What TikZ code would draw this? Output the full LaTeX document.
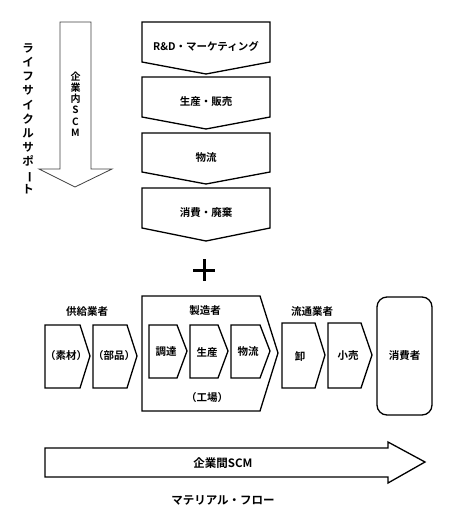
\documentclass[tikz,border=0pt]{standalone}
\usepackage{fontspec}
\setmainfont{Noto Sans CJK JP}[BoldFont={Noto Sans CJK JP Bold}]
\newfontfamily\jpb{Noto Sans CJK JP Bold}
\newcommand{\vbar}{\rotatebox[origin=c]{-90}{ー}}
\begin{document}
\begin{tikzpicture}[x=1pt,y=-1pt,
  shapeline/.style={draw=black,line width=1.3pt,fill=white,line join=miter},
  thinline/.style={draw=black!75,line width=0.8pt,fill=white},
  lbl/.style={font=\jpb\fontsize{10.5}{12}\selectfont,inner sep=0pt},
  blbl/.style={font=\jpb\fontsize{11.5}{13}\selectfont,inner sep=0pt},
  vlbl/.style={font=\jpb\fontsize{11.5}{14.1}\selectfont,inner sep=0pt,align=center},
  vlbls/.style={font=\jpb\fontsize{10}{11.3}\selectfont,inner sep=0pt,align=center}]
\useasboundingbox (0,0) rectangle (450,511);
% left vertical arrow
\draw[thinline] (60,22) -- (91,22) -- (91,169) -- (112,169) -- (75,187) -- (39,169) -- (60,169) -- cycle;
\node[vlbls] (inscm) at (75.5,104) {企\\業\\内\\S\\C\\M};
\node[vlbl] (life) at (28,119) {ラ\\イ\\フ\\サ\\イ\\ク\\ル\\サ\\ポ\\\vbar\\ト};
% top chevrons
\draw[shapeline] (142,22) -- (270,22) -- (270,62) -- (206,74) -- (142,62) -- cycle;
\node[lbl] (rd) at (206,46) {R\&D・マーケティング};
\draw[shapeline] (142,77) -- (270,77) -- (270,117) -- (206,129) -- (142,117) -- cycle;
\node[lbl] (seisan) at (206,102) {生産・販売};
\draw[shapeline] (142,133) -- (270,133) -- (270,172) -- (206,184) -- (142,172) -- cycle;
\node[lbl] (butsu) at (206,158) {物流};
\draw[shapeline] (142,188) -- (270,188) -- (270,228) -- (206,241) -- (142,228) -- cycle;
\node[lbl] (shohi) at (206,213) {消費・廃棄};
% plus
\draw[line width=3pt] (193,270) -- (215,270) (204,259) -- (204,281);
% suppliers
\node[lbl] (kyo) at (87,312) {供給業者};
\draw[shapeline] (45,325) -- (80,325) -- (90,356) -- (80,388) -- (45,388) -- cycle;
\node[lbl] (sozai) at (66,356) {（素材）};
\draw[shapeline] (93,325) -- (127,325) -- (137,356) -- (127,388) -- (93,388) -- cycle;
\node[lbl] (buhin) at (114,356) {（部品）};
% manufacturer
\draw[shapeline] (142,296) -- (260,296) -- (278,353) -- (260,411) -- (142,411) -- cycle;
\node[lbl] (seizo) at (205,311) {製造者};
\draw[shapeline] (149,325) -- (177,325) -- (187,351) -- (177,378) -- (149,378) -- cycle;
\node[lbl] (chotatsu) at (166,352) {調達};
\draw[shapeline] (190,325) -- (218,325) -- (228,351) -- (218,378) -- (190,378) -- cycle;
\node[lbl] (seisan2) at (207,352) {生産};
\draw[shapeline] (231,325) -- (260,325) -- (270,351) -- (260,378) -- (231,378) -- cycle;
\node[lbl] (butsu2) at (248,352) {物流};
\node[lbl] (kojo) at (207,398) {（工場）};
% distributors
\node[lbl] (ryutsu) at (312,312) {流通業者};
\draw[shapeline] (282,323) -- (315,323) -- (325,355) -- (315,388) -- (282,388) -- cycle;
\node[lbl] (oroshi) at (300,356) {卸};
\draw[shapeline] (328,323) -- (361,323) -- (372,355) -- (361,388) -- (328,388) -- cycle;
\node[lbl] (kouri) at (348,356) {小売};
\draw[shapeline,rounded corners=10pt] (377,297) rectangle (432,415);
\node[lbl] (shohisha) at (404.5,356) {消費者};
% bottom arrow
\draw[shapeline] (45,448) -- (388,448) -- (388,442) -- (425,462) -- (388,483) -- (388,477) -- (45,477) -- cycle;
\node[blbl] (kigyokan) at (223,463) {企業間SCM};
\node[blbl] (material) at (223,500) {マテリアル・フロー};
\end{tikzpicture}
\end{document}
